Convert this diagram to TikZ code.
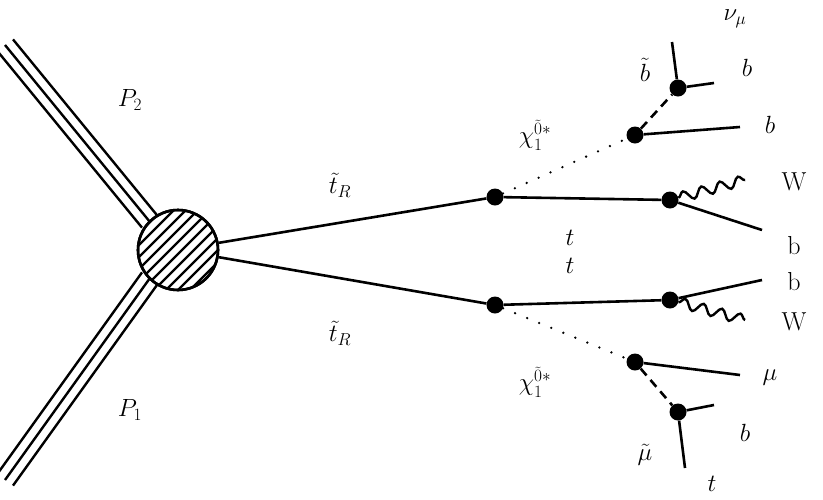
\documentclass[tikz,border=0pt]{standalone}
\usetikzlibrary{decorations.pathmorphing}
\tikzset{
  vtx/.style={circle, fill=black, inner sep=0pt, minimum size=17pt},
  leg/.style={line width=2.6pt},
  sparticle/.style={line width=2.6pt, dash pattern=on 9pt off 6pt},
  neutralino/.style={line width=2.6pt, line cap=round, dash pattern=on 0pt off 13pt},
  boson/.style={line width=2.4pt, decorate, decoration={snake, amplitude=5pt, segment length=19pt}},
  lbl/.style={font=\fontsize{26}{28}\selectfont}
}
\begin{document}
\begin{tikzpicture}[x=1pt, y=-1pt]
  \useasboundingbox (0,0) rectangle (823,499);

  % incoming protons
  \foreach \d in {-8,0,8} {
    \draw [line width=2.4pt] (5+\d,45-\d*0.7) -- (150+\d,222-\d*0.7);
    \draw [line width=2.4pt] (5+\d,480+\d*0.7) -- (150+\d,278+\d*0.7);
  }
  \node [lbl] (p2) at (130,100) {$P_2$};
  \node [lbl] (p1) at (130,410) {$P_1$};

  \node [circle, draw, line width=2.6pt, minimum size=80pt, fill=white] (blob) at (178,250) {};
  \begin{scope}
    \clip (178,250) circle (40pt);
    \foreach \s in {-80,-68,...,80}
      \draw [line width=2.4pt] (178+\s-60,250+60) -- (178+\s+60,250-60);
  \end{scope}
  \draw [line width=2.6pt] (178,250) circle (40pt);

  % stops
  \node [vtx] (vu) at (495,197) {};
  \node [vtx] (vd) at (495,305) {};
  \draw [leg] (blob.10) -- (vu);
  \draw [leg] (blob.-10) -- (vd);
  \node [lbl] at (340,185) {$\tilde t_R$};
  \node [lbl] at (340,333) {$\tilde t_R$};

  % tops
  \node [vtx] (tu) at (670,200) {};
  \node [vtx] (td) at (670,300) {};
  \draw [leg] (vu) -- (tu);
  \draw [leg] (vd) -- (td);
  \node [lbl] at (570,238) {$t$};
  \node [lbl] at (570,266) {$t$};
  \coordinate (wu) at (745,180);
  \coordinate (bu) at (762,230);
  \coordinate (bd) at (762,280);
  \coordinate (wd) at (745,320);
  \draw [boson] (tu) -- (wu);
  \draw [leg] (tu) -- (bu);
  \draw [leg] (td) -- (bd);
  \draw [boson] (td) -- (wd);
  \node [lbl] at (794,182) {W};
  \node [lbl] at (794,246) {b};
  \node [lbl] at (794,282) {b};
  \node [lbl] at (794,322) {W};

  % neutralinos
  \node [vtx] (nu) at (635,135) {};
  \node [vtx] (nd) at (635,362) {};
  \draw [neutralino] (vu) -- (nu);
  \draw [neutralino] (vd) -- (nd);
  \node [lbl] at (535,135) {$\chi_1^{\tilde 0*}$};
  \node [lbl] at (535,382) {$\chi_1^{\tilde 0*}$};

  % upper cascade
  \node [vtx] (su) at (678,88) {};
  \draw [sparticle] (nu) -- (su);
  \draw [leg] (nu) -- (740,127);
  \draw [leg] (su) -- (672,42);
  \draw [leg] (su) -- (714,83);
  \node [lbl] at (645,70) {$\tilde b$};
  \node [lbl] at (770,125) {$b$};
  \node [lbl] at (747,68) {$b$};
  \node [lbl] at (735,19) {$\nu_\mu$};

  % lower cascade
  \node [vtx] (sd) at (678,412) {};
  \draw [sparticle] (nd) -- (sd);
  \draw [leg] (nd) -- (740,375);
  \draw [leg] (sd) -- (714,405);
  \draw [leg] (sd) -- (685,468);
  \node [lbl] at (645,455) {$\tilde\mu$};
  \node [lbl] at (770,378) {$\mu$};
  \node [lbl] at (745,433) {$b$};
  \node [lbl] at (712,484) {$t$};
\end{tikzpicture}
\end{document}
